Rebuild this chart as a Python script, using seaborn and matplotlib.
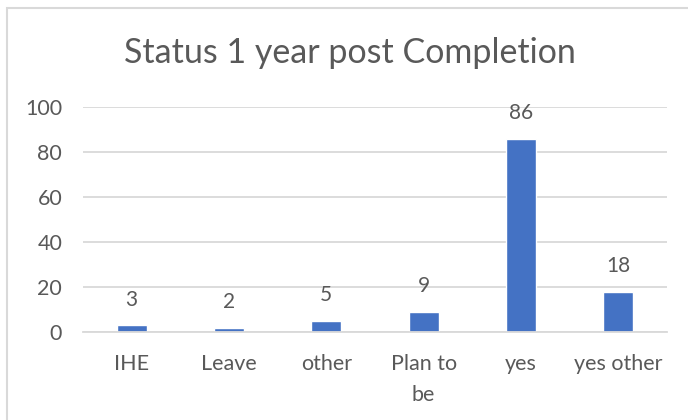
import matplotlib
matplotlib.use("Agg")
import pandas as pd
import seaborn as sns
import matplotlib.pyplot as plt
from matplotlib.patches import Rectangle

# chart values
categories = ["IHE", "Leave", "other", "Plan to\nbe", "yes", "yes other"]
counts = [3, 2, 5, 9, 86, 18]
y_ticks = [0, 20, 40, 60, 80, 100]

df = pd.DataFrame({"status": categories, "count": counts})

sns.set_theme(style="white")
plt.rcParams["font.family"] = ["Lato", "DejaVu Sans"]

grey_txt = "#595959"
grid_col = "#D9D9D9"
bar_col = "#4472C4"

fig = plt.figure(figsize=(6.88, 4.20), dpi=100)
ax = fig.add_axes([83 / 688, 1 - 332 / 420, (667 - 83) / 688, (332 - 107) / 420])

sns.barplot(data=df, x="status", y="count", color=bar_col, width=0.31,
            saturation=1, ax=ax)

ax.set_ylim(0, 100)
ax.set_yticks(y_ticks)
ax.yaxis.grid(True, color=grid_col, linewidth=1.3)
ax.set_axisbelow(True)
for s in ["top", "right", "left"]:
    ax.spines[s].set_visible(False)
ax.spines["bottom"].set_color(grid_col)
ax.spines["bottom"].set_linewidth(1.3)
ax.tick_params(axis="both", length=0, labelsize=15.5, labelcolor=grey_txt)
ax.tick_params(axis="y", pad=15)
ax.tick_params(axis="x", pad=16)
for lbl in ax.get_xticklabels():
    lbl.set_linespacing(1.65)
ax.set_xlabel("")
ax.set_ylabel("")

for p, v in zip(ax.patches, counts):
    ax.annotate(str(v), (p.get_x() + p.get_width() / 2, p.get_height()),
                xytext=(0, 11), textcoords="offset points",
                ha="center", va="bottom", fontsize=15, color=grey_txt)

fig.text(350 / 688, 1 - 53 / 420, "Status 1 year post Completion",
         ha="center", va="center", fontsize=24.5, color=grey_txt)

# chart area border
fig.patches.append(Rectangle((7 / 688, -0.1), 1.0, 1 - 8 / 420 + 0.1,
                             transform=fig.transFigure, fill=False,
                             edgecolor=grid_col, linewidth=1.5))

fig.savefig("out.png", dpi=100)
